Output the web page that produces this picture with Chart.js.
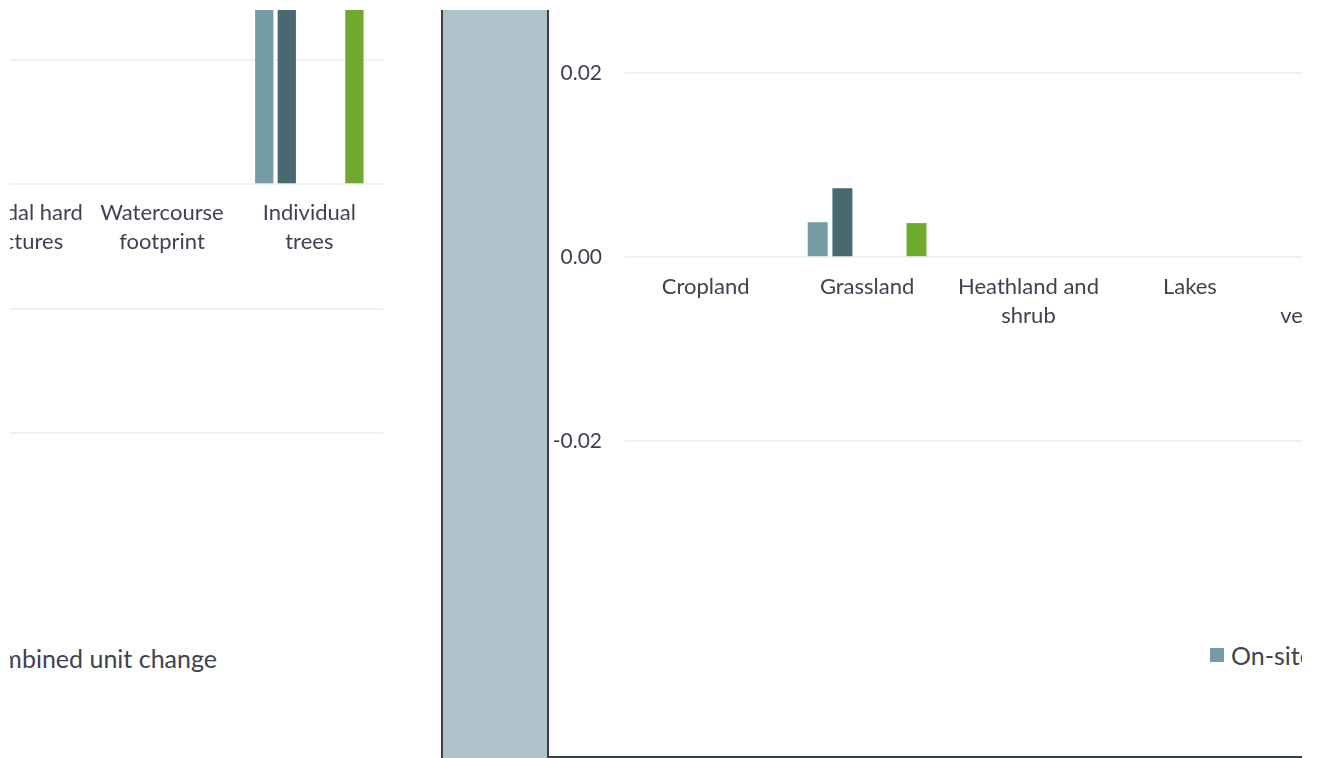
<!DOCTYPE html>
<html>
<head>
<meta charset="utf-8">
<script src="https://cdn.jsdelivr.net/npm/chart.js@4.4.1/dist/chart.umd.min.js"></script>
<style>
  body { margin: 0; background: #fff; width: 1319px; height: 758px; overflow: hidden; position: relative; font-family: Lato, sans-serif; }
  .clip { position: absolute; overflow: hidden; }
  #leftClip { left: 10px; top: 10px; width: 431px; height: 748px; }
  #panel { position: absolute; left: 441px; top: 10px; width: 104px; height: 748px; background: #aec3c9;
           border-left: 2px solid #3b3e49; border-right: 2px solid #3b3e49; }
  #rightClip { left: 549px; top: 10px; width: 753px; height: 746px; border-bottom: 2px solid #3b3e49; }
  canvas { position: absolute; }
  .legend { position: absolute; display: flex; white-space: nowrap; height: 30px; line-height: 30px;
            font-size: 25px; color: #3f4351; align-items: center; }
  .legend .item { display: flex; align-items: center; margin-left: 26px; }
  .legend .item:first-child { margin-left: 0; }
  .legend i { display: inline-block; width: 14px; height: 14px; margin-right: 7px; }
  #leftLegend { right: 224px; top: 633px; }
  #rightLegend { left: 661px; top: 630px; }
</style>
</head>
<body>
<div id="leftClip" class="clip">
  <canvas id="leftChart" width="502" height="946" style="left:-129px; top:-448px;"></canvas>
  <div id="leftLegend" class="legend"></div>
</div>
<div id="panel"></div>
<div id="rightClip" class="clip">
  <canvas id="rightChart" width="883" height="626" style="left:0px; top:-29px;"></canvas>
  <div id="rightLegend" class="legend"></div>
</div>
<script>
const seriesLabels = ['On-site baseline', 'On-site post-intervention', 'Off-site baseline', 'Off-site post-intervention', 'Combined unit change'];
const seriesColors = ['#759ba5', '#486970', '#a9c4cb', '#2f4a50', '#6faa2e'];

// right chart: area habitats
const habitatCategories = [['Cropland'], ['Grassland'], ['Heathland and', 'shrub'], ['Lakes'], ['Sparsely', 'vegetated land']];
const habitatOnsiteBaseline = [0, 0.0038, 0, 0, 0];
const habitatOnsitePost = [0, 0.0075, 0, 0, 0];
const habitatOffsiteBaseline = [0, 0, 0, 0, 0];
const habitatOffsitePost = [0, 0, 0, 0, 0];
const habitatCombined = [0, 0.0037, 0, 0, 0];

// left chart: remaining types
const otherCategories = [['Intertidal hard', 'structures'], ['Watercourse', 'footprint'], ['Individual', 'trees']];
const otherOnsiteBaseline = [0, 0, 0.09];
const otherOnsitePost = [0, 0, 0.2];
const otherOffsiteBaseline = [0, 0, 0];
const otherOffsitePost = [0, 0, 0];
const otherCombined = [0, 0, 0.11];

const textColor = '#3f4351';
const gridColor = '#eef2f3';
const fontFamily = "Lato, 'Open Sans', sans-serif";

function makeDatasets(series) {
    return series.map((data, i) => ({
        label: seriesLabels[i],
        data: data,
        backgroundColor: seriesColors[i],
        borderWidth: 0,
        categoryPercentage: 0.765,
        barPercentage: 0.81
    }));
}

function makeChart(id, labels, series, yOpts) {
    return new Chart(document.getElementById(id), {
        type: 'bar',
        data: { labels: labels, datasets: makeDatasets(series) },
        options: {
            responsive: false,
            animation: false,
            layout: { padding: 0 },
            plugins: { legend: { display: false }, tooltip: { enabled: false } },
            scales: {
                x: {
                    position: { y: 0 },
                    grid: { display: false, drawTicks: false },
                    border: { display: false },
                    ticks: {
                        color: textColor,
                        font: { family: fontFamily, size: 22, lineHeight: 1.32 },
                        padding: yOpts.labelPad,
                        maxRotation: 0,
                        autoSkip: false
                    },
                    afterFit: s => { s.height = 0; s.paddingLeft = 0; s.paddingRight = 0; }
                },
                y: {
                    min: yOpts.min,
                    max: yOpts.max,
                    grid: { color: gridColor, lineWidth: 2, drawTicks: false },
                    border: { display: false },
                    ticks: {
                        stepSize: yOpts.step,
                        includeBounds: false,
                        padding: 23,
                        color: textColor,
                        font: { family: fontFamily, size: 21 },
                        callback: v => v.toFixed(2)
                    },
                    afterFit: s => { s.width = yOpts.width; s.paddingTop = 0; s.paddingBottom = 0; }
                }
            }
        }
    });
}

makeChart('leftChart', otherCategories,
    [otherOnsiteBaseline, otherOnsitePost, otherOffsiteBaseline, otherOffsitePost, otherCombined],
    { min: -0.13, max: 0.25, step: 0.05, width: 60, labelPad: 14 });

makeChart('rightChart', habitatCategories,
    [habitatOnsiteBaseline, habitatOnsitePost, habitatOffsiteBaseline, habitatOffsitePost, habitatCombined],
    { min: -0.038, max: 0.03, step: 0.02, width: 76, labelPad: 15 });

function buildLegend(id) {
    const el = document.getElementById(id);
    seriesLabels.forEach((name, i) => {
        const item = document.createElement('span');
        item.className = 'item';
        const box = document.createElement('i');
        box.style.background = seriesColors[i];
        item.appendChild(box);
        item.appendChild(document.createTextNode(name));
        el.appendChild(item);
    });
}
buildLegend('leftLegend');
buildLegend('rightLegend');
</script>
</body>
</html>
